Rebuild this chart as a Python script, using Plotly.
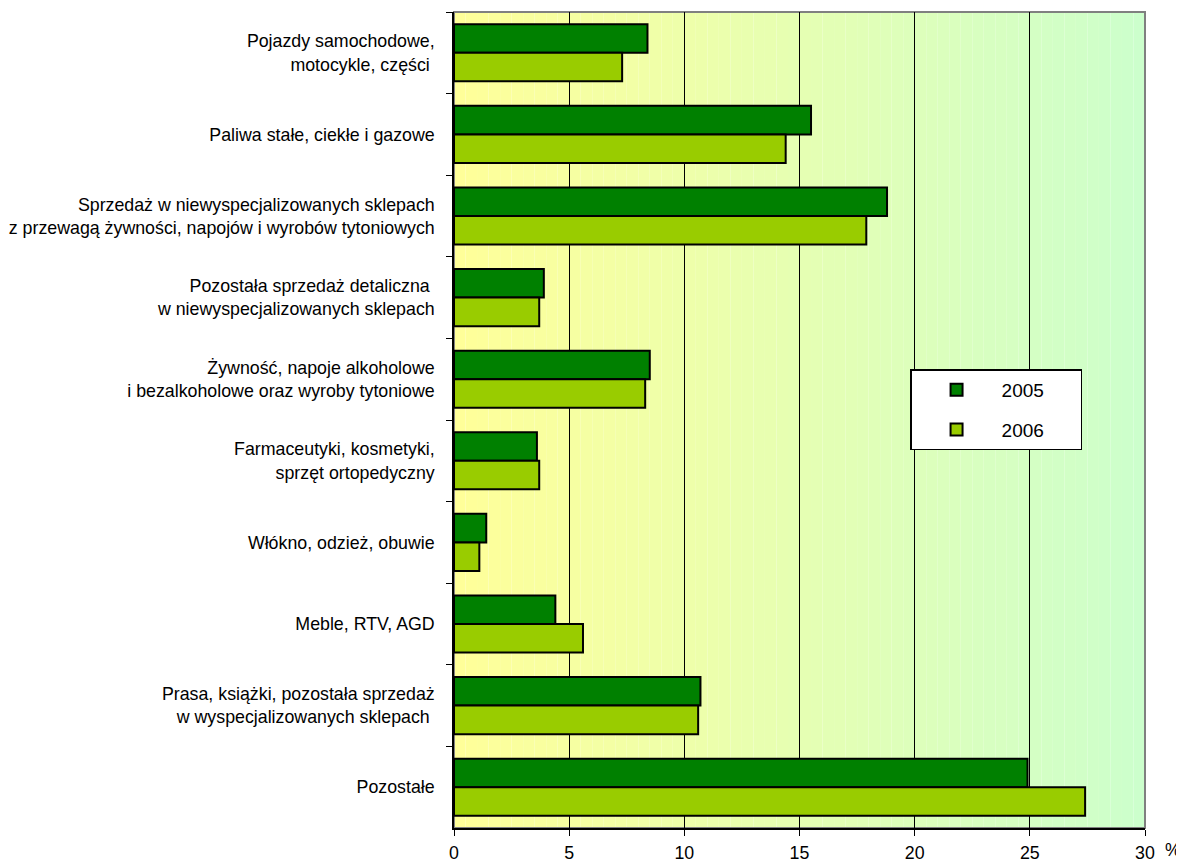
import plotly.graph_objects as go

categories = [
    "Pojazdy samochodowe,<br>motocykle, części\u00a0",
    "Paliwa stałe, ciekłe i gazowe",
    "Sprzedaż w niewyspecjalizowanych sklepach<br>z przewagą żywności, napojów i wyrobów tytoniowych",
    "Pozostała sprzedaż detaliczna\u00a0<br>w niewyspecjalizowanych sklepach",
    "Żywność, napoje alkoholowe<br>i bezalkoholowe oraz wyroby tytoniowe",
    "Farmaceutyki, kosmetyki,<br>sprzęt ortopedyczny",
    "Włókno, odzież, obuwie",
    "Meble, RTV, AGD",
    "Prasa, książki, pozostała sprzedaż<br>w wyspecjalizowanych sklepach\u00a0",
    "Pozostałe",
]
values_2005 = [8.4, 15.5, 18.8, 3.9, 8.5, 3.6, 1.4, 4.4, 10.7, 24.9]
values_2006 = [7.3, 14.4, 17.9, 3.7, 8.3, 3.7, 1.1, 5.6, 10.6, 27.4]
series_names = ["2005", "2006"]
x_ticks = [0, 5, 10, 15, 20, 25, 30]

FONT = "Liberation Sans, Arial, sans-serif"
PAD = "\u00a0" * 6

fig = go.Figure()
fig.add_trace(go.Bar(
    y=categories, x=values_2005, orientation="h", name=series_names[0] + PAD,
    marker=dict(color="#008000", line=dict(color="#000000", width=2)),
    legendgroup="a",
))
fig.add_trace(go.Bar(
    y=categories, x=values_2006, orientation="h", name=series_names[1] + PAD,
    marker=dict(color="#99CC00", line=dict(color="#000000", width=2)),
    legendgroup="b",
))

# gradient background (yellow -> light green)
shapes = []
n = 60
c0 = (255, 255, 153)
c1 = (204, 255, 204)
for i in range(n):
    t = (i + 0.5) / n
    col = tuple(round(c0[k] + (c1[k] - c0[k]) * t) for k in range(3))
    shapes.append(dict(
        type="rect", xref="x", yref="paper",
        x0=30 * i / n, x1=30 * (i + 1) / n, y0=0, y1=1,
        fillcolor="rgb(%d,%d,%d)" % col, line=dict(width=0), layer="below",
    ))
# gray frame on top / right
shapes.append(dict(type="rect", xref="paper", yref="paper", x0=0, x1=1, y0=0, y1=1,
                   line=dict(color="#808080", width=2), layer="below"))

fig.update_layout(
    width=1176, height=856,
    margin=dict(l=446, r=39, t=4, b=36, autoexpand=False),
    paper_bgcolor="white", plot_bgcolor="white",
    barmode="group", bargap=0.3, bargroupgap=0,
    font=dict(family=FONT, size=17.8, color="#000000"),
    shapes=shapes,
    showlegend=True,
    legend=dict(
        x=0.66, y=0.562, xanchor="left", yanchor="top",
        bgcolor="white", bordercolor="#000000", borderwidth=1.5,
        font=dict(size=19, family=FONT), traceorder="grouped",
        tracegroupgap=12, itemwidth=80,
    ),
    annotations=[dict(
        x=30, y=0, xref="x", yref="paper", text="%", showarrow=False,
        xanchor="left", yanchor="top", xshift=18, yshift=-10,
        font=dict(size=17.8, family=FONT),
    )],
)
fig.update_xaxes(
    range=[0, 30], tickvals=x_ticks, ticktext=[str(v) for v in x_ticks],
    showgrid=True, gridcolor="#000000", gridwidth=1,
    showline=True, linecolor="#000000", linewidth=1.5,
    ticks="outside", ticklen=6, tickcolor="#000000", ticklabelstandoff=2,
    zeroline=False, fixedrange=True, automargin=False,
)
fig.update_yaxes(
    categoryorder="array", categoryarray=categories, autorange="reversed",
    showline=True, linecolor="#000000", linewidth=1.5,
    ticks="outside", tickson="boundaries", ticklen=6, tickcolor="#000000",
    ticklabelstandoff=14, showgrid=False, fixedrange=True, automargin=False,
)

fig.write_html("out.html")
